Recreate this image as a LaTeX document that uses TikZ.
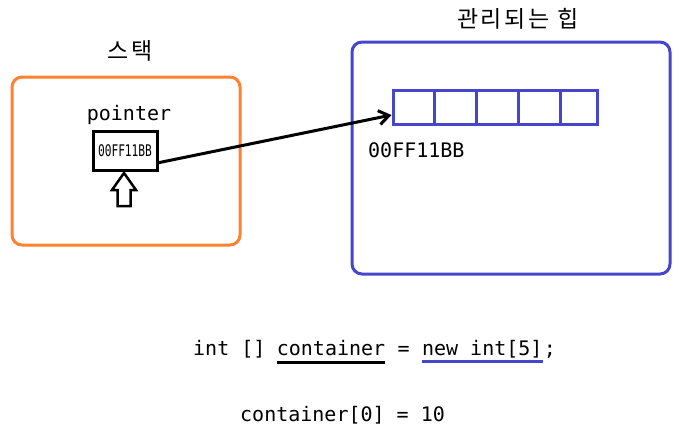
\documentclass[tikz,border=0pt]{standalone}
\usepackage{fontspec}
\setmainfont{Noto Sans CJK KR}
\newfontfamily\codefont{DejaVu Sans Mono}
\newfontfamily\hangulfont[LetterSpace=12]{Noto Sans CJK KR}
\usetikzlibrary{positioning,arrows.meta}
\definecolor{stackorange}{RGB}{255,130,50}
\definecolor{heapblue}{RGB}{70,70,205}
\tikzset{
    area/.style={draw, line width=3pt, rounded corners=10pt},
    cell/.style={draw=heapblue, line width=3pt, minimum height=34pt, inner sep=0pt},
    code/.style={inner sep=0pt, font=\codefont\fontsize{20}{24}\selectfont}
}

\begin{document}
\begin{tikzpicture}[x=1pt,y=-1pt]
        \useasboundingbox (0,0) rectangle (693,432);
        % Areas
        \node[area, draw=stackorange, minimum width=228pt, minimum height=168pt] (stack) at (126,161) {};
        \node[area, draw=heapblue, minimum width=318pt, minimum height=232pt] (heap) at (511,158) {};
        \node[font=\hangulfont\fontsize{23}{27}\selectfont] (stacktitle) at (130,51) {스택};
        \node[font=\hangulfont\fontsize{23}{27}\selectfont] (heaptitle) at (518,19) {관리되는 힙};

        % Stack side
        \node[code] (ptrlabel) at (129,115) {pointer};
        \node[draw, line width=3pt, minimum width=64pt, minimum height=39pt, inner sep=0pt] (ptr) at (125,150.5) {
            \scalebox{0.7}[1]{\codefont\fontsize{16}{18}\selectfont 00FF11BB}
        };
        \coordinate (pushtip) at (124,173);
        % hollow arrow under the pointer box
        \draw[line width=2.5pt, line join=miter] (pushtip) -- ++(12,17) -- ++(-5.5,0) -- ++(0,16)
            -- ++(-13,0) -- ++(0,-16) -- ++(-5.5,0) -- cycle;

        % Heap side
        \node[cell, minimum width=41pt] (cell1) at (413.5,107) {};
        \node[cell, minimum width=42pt] (cell2) at (455,107) {};
        \node[cell, minimum width=42pt] (cell3) at (497,107) {};
        \node[cell, minimum width=42pt] (cell4) at (539,107) {};
        \node[cell, minimum width=37pt] (cell5) at (578.5,107) {};
        \node[code, anchor=west] (addr) at (368,150) {00FF11BB};

        % Code
        \node[code, anchor=base west] (decl) at (193,355) {int []};
        \node[code, base right=11pt of decl] (cont) {container};
        \node[code, base right=12pt of cont] (assign) {=};
        \node[code, base right=12pt of assign] (alloc) {new int[5]};
        \node[code, base right=1pt of alloc] (semi) {;};
        \node[code, anchor=base west] (store) at (240,421) {container[0] = 10};

        % Arrows
        \draw[-{Straight Barb[length=10pt,width=14pt]}, line width=3pt] (ptr.-20) -- (cell1.-160);
        \draw[line width=3pt] ([yshift=-7pt]cont.base west) -- ([yshift=-7pt]cont.base east);
        \draw[heapblue, line width=3pt] ([yshift=-6pt]alloc.base west) -- ([yshift=-6pt]alloc.base east);

    \end{tikzpicture}
\end{document}
